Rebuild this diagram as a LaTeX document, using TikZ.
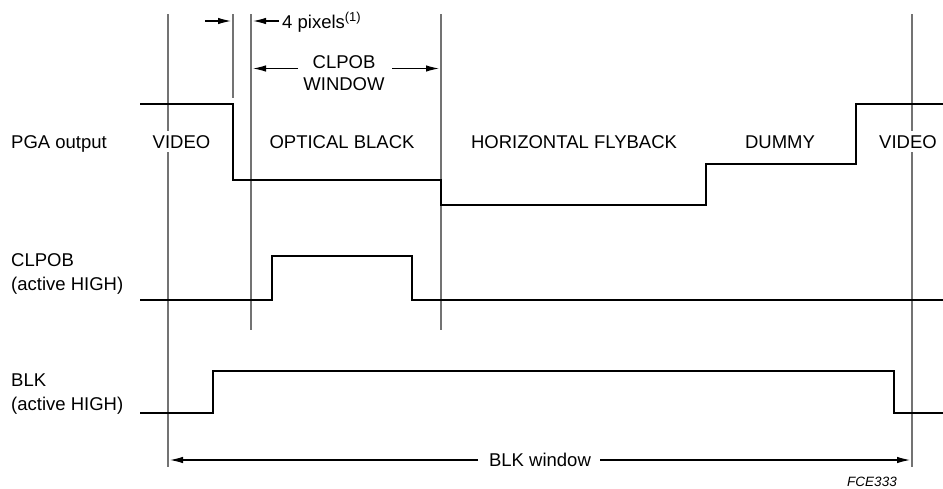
\documentclass[tikz,border=0pt]{standalone}
\usepackage{fontspec}
\setmainfont{Liberation Sans}
\usetikzlibrary{arrows.meta}
\begin{document}
\begin{tikzpicture}[x=1pt,y=-1pt,
  sig/.style={line width=2.6pt, line join=miter},
  guide/.style={line width=1.1pt, draw=black!55},
  dimarrow/.style={line width=1.1pt, -{Latex[length=13pt,width=6.5pt]}},
  lbl/.style={font=\fontsize{18.5}{22}\selectfont, inner sep=0pt, text height=13.2pt, text depth=0pt},
  lblw/.style={lbl, anchor=west},
  gaplbl/.style={lbl, fill=white, inner xsep=1pt, inner ysep=4pt},
  tag/.style={font=\fontsize{13.5}{16}\selectfont\itshape, inner sep=0pt, text height=9.7pt, text depth=0pt}]
\useasboundingbox (0,0) rectangle (943,488);

% guide lines
\coordinate (g1t) at (168,14);  \coordinate (g1b) at (168,467);
\coordinate (g2t) at (233,14);  \coordinate (g2b) at (233,98);
\coordinate (g3t) at (251,14);  \coordinate (g3b) at (251,330);
\coordinate (g4t) at (441,14);  \coordinate (g4b) at (441,330);
\coordinate (g5t) at (912,14);  \coordinate (g5b) at (912,467);
\draw[guide] (g1t) -- (g1b);
\draw[guide] (g2t) -- (g2b);
\draw[guide] (g3t) -- (g3b);
\draw[guide] (g4t) -- (g4b);
\draw[guide] (g5t) -- (g5b);

% row labels
\node[lblw] (pga) at (11,142) {PGA output};
\node[lblw] (clp1) at (11,260) {CLPOB};
\node[lblw] (clp2) at (11,283.5) {(active HIGH)};
\node[lblw] (blk1) at (11,380) {BLK};
\node[lblw] (blk2) at (11,403.5) {(active HIGH)};

% PGA segment labels
\node[gaplbl] (v1) at (181.5,141.5) {VIDEO};
\node[lbl] (ob) at (342,141.5) {OPTICAL BLACK};
\node[lbl] (hf) at (574,141.5) {HORIZONTAL FLYBACK};
\node[lbl] (dm) at (780,141.5) {DUMMY};
\node[gaplbl] (v2) at (908,141.5) {VIDEO};

% signals
\draw[sig] (140,104) -- (233,104) -- (233,180) -- (441,180) -- (441,205)
  -- (706,205) -- (706,164) -- (856,164) -- (856,104) -- (943,104);
\draw[sig] (140,300) -- (272,300) -- (272,256) -- (412,256) -- (412,300) -- (943,300);
\draw[sig] (140,413) -- (213,413) -- (213,371) -- (894,371) -- (894,413) -- (943,413);

% top dimension arrows
\coordinate (a1s) at (205,21); \coordinate (a1e) at (231,21);
\draw[dimarrow] (a1s) -- (a1e);
\coordinate (a2s) at (279,21); \coordinate (a2e) at (253,21);
\draw[dimarrow] (a2s) -- (a2e);
\node[lblw] (px) at (282,21.5) {4 pixels\textsuperscript{(1)}};

\node[lbl] (cw1) at (344,62) {CLPOB};
\node[lbl] (cw2) at (344,84) {WINDOW};
\coordinate (c1s) at (298,68.5); \coordinate (c1e) at (253,68.5);
\coordinate (c2s) at (392,68.5); \coordinate (c2e) at (439,68.5);
\draw[dimarrow] (c1s) -- (c1e);
\draw[dimarrow] (c2s) -- (c2e);

% BLK window
\node[lbl] (bw) at (540,460) {BLK window};
\coordinate (b1s) at (478,460); \coordinate (b1e) at (170,460);
\coordinate (b2s) at (600,460); \coordinate (b2e) at (910,460);
\draw[dimarrow] (b1s) -- (b1e);
\draw[dimarrow] (b2s) -- (b2e);

\node[tag] (fce) at (872,482) {FCE333};
\end{tikzpicture}
\end{document}
